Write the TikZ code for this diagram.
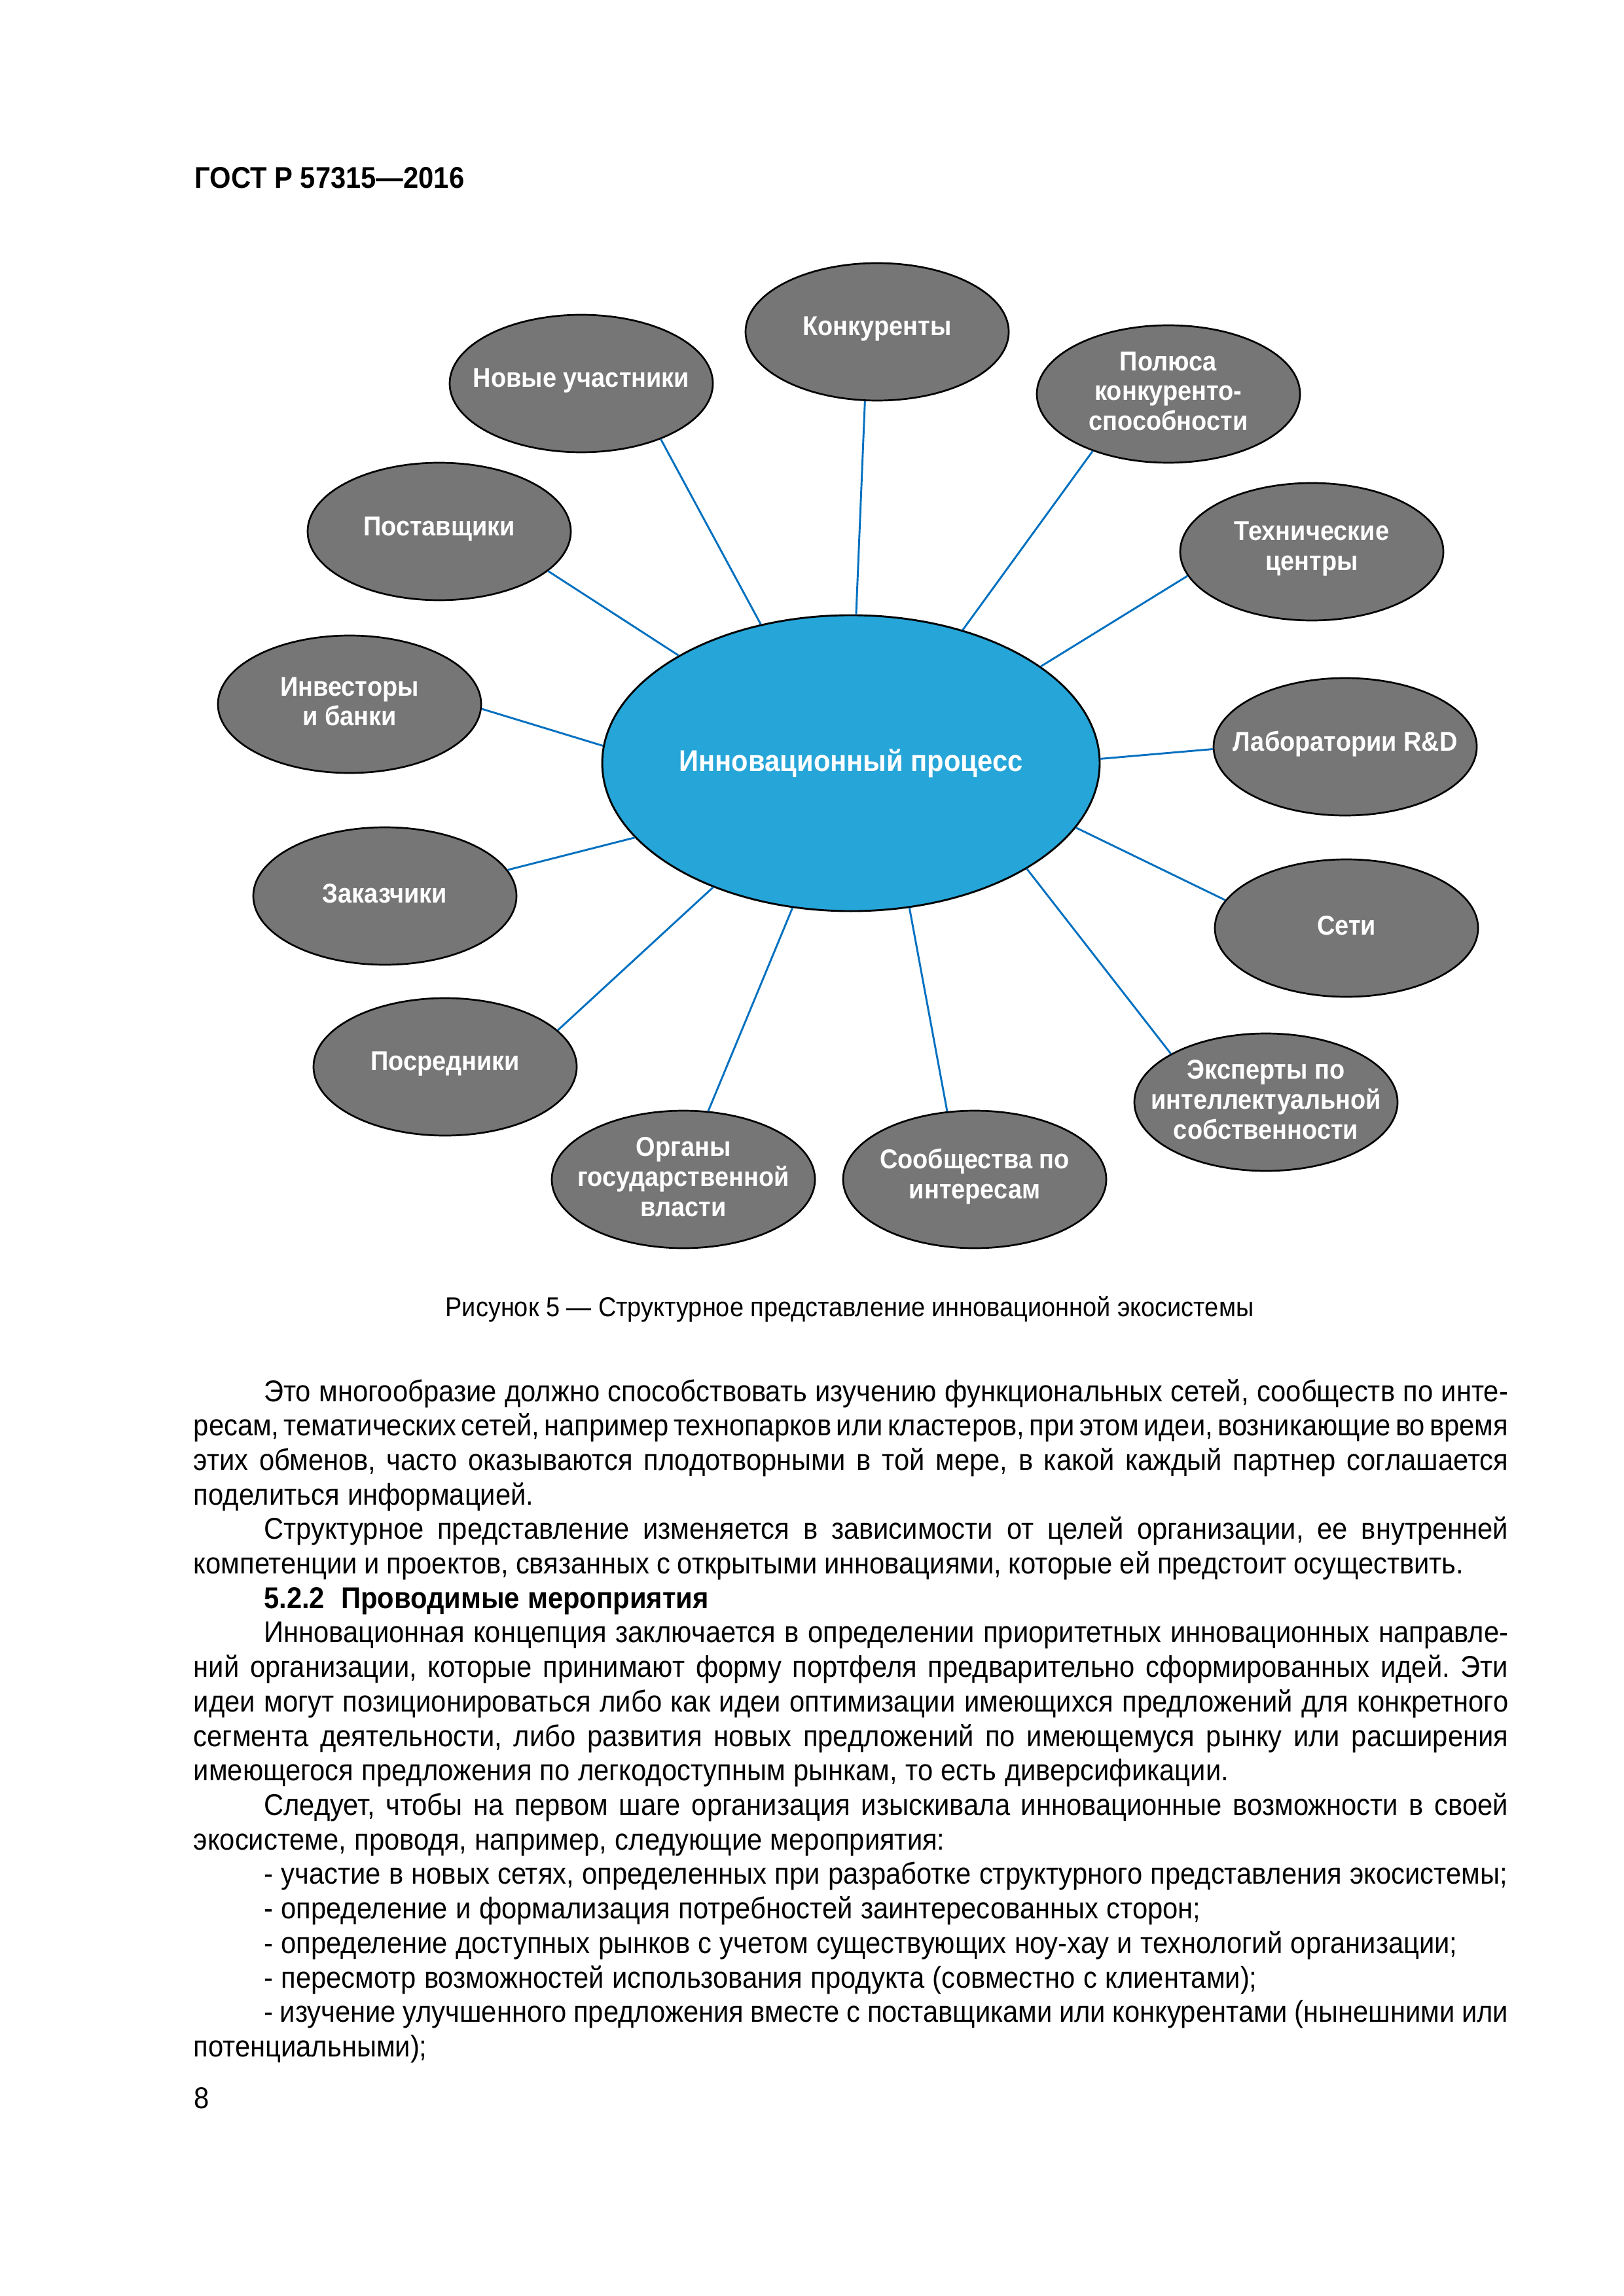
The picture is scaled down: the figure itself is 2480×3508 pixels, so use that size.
\documentclass[tikz,border=0pt]{standalone}
\usepackage{fontspec}
\setmainfont[FakeStretch=0.91]{Liberation Sans}
\usetikzlibrary{shapes.geometric}
\definecolor{cblue}{RGB}{38,165,216}
\definecolor{sgray}{RGB}{118,118,118}
\definecolor{lblue}{RGB}{0,112,192}
\newlength\tw \setlength\tw{482pt}
\newlength\pin \setlength\pin{25.8pt}
\newcommand\LF[1]{\hbox to\tw{#1}}
\newcommand\LI[1]{\hbox to\tw{\hskip\pin #1}}
\newcommand\LN[1]{\hbox{#1}}
\newcommand\LIN[1]{\hbox{\hskip\pin #1}}
\begin{document}
\begin{tikzpicture}[x=0.24pt,y=-0.24pt,
 sat/.style={ellipse,draw=black,line width=0.65pt,fill=sgray,minimum width=96.5pt,minimum height=50.4pt,inner sep=0pt},
 sattext/.style={inner sep=0pt,text=white,font=\fontsize{10}{11}\selectfont\bfseries,align=center,yshift=1pt},
 hub/.style={ellipse,draw=black,line width=0.7pt,fill=cblue,minimum width=182.4pt,minimum height=108.5pt,inner sep=0pt},
 hubtext/.style={inner sep=0pt,text=white,font=\fontsize{11}{13}\selectfont\bfseries},
 link/.style={draw=lblue,line width=0.7pt},
 txt/.style={inner sep=0pt,text=black}]
\useasboundingbox (0,0) rectangle (2480,3508);
\fill[white] (0,0) rectangle (2480,3508);

\node[txt,anchor=base west,font=\fontsize{11}{13}\selectfont\bfseries] (hdr) at (297,288) {ГОСТ Р 57315—2016};

\node[hub,label={[hubtext]center:Инновационный процесс}] (c) at (1300,1166) {};

\node[sat,label={[sattext]center:Новые участники}] (s1) at (888,586) {};
\node[sat,label={[sattext]center:Конкуренты}] (s2) at (1340,507) {};
\node[sat,label={[sattext]center:{Полюса\\конкуренто-\\способности}}] (s3) at (1785,602) {};
\node[sat,label={[sattext]center:{Технические\\центры}}] (s4) at (2004,843) {};
\node[sat,label={[sattext]center:Лаборатории R\&D}] (s5) at (2055,1141) {};
\node[sat,label={[sattext]center:Сети}] (s6) at (2057,1418) {};
\node[sat,label={[sattext]center:{Эксперты по\\интеллектуальной\\собственности}}] (s7) at (1934,1684) {};
\node[sat,label={[sattext]center:{Сообщества по\\интересам}}] (s8) at (1489,1802) {};
\node[sat,label={[sattext]center:{Органы\\государственной\\власти}}] (s9) at (1044,1802) {};
\node[sat,label={[sattext]center:Посредники}] (s10) at (680,1630) {};
\node[sat,label={[sattext]center:Заказчики}] (s11) at (588,1369) {};
\node[sat,label={[sattext]center:{Инвесторы\\и банки}}] (s12) at (534,1076) {};
\node[sat,label={[sattext]center:Поставщики}] (s13) at (671,812) {};

\draw[link] (c.123.7) -- (s1.-35.8);
\draw[link] (c.88.9) -- (s2.-100.4);
\draw[link] (c.50.2) -- (s3.-143.3);
\draw[link] (c.27.1) -- (s4.-169.1);
\draw[link] (c.1.7) -- (s5.181.3);
\draw[link] (c.-16.3) -- (s6.167.6);
\draw[link] (c.-31.9) -- (s7.153.4);
\draw[link] (c.-68.5) -- (s8.112.4);
\draw[link] (c.-112.3) -- (s9.70.8);
\draw[link] (c.-138.5) -- (s10.18.9);
\draw[link] (c.-161.1) -- (s11.12.1);
\draw[link] (c.176.3) -- (s12.-2.5);
\draw[link] (c.148) -- (s13.-20.2);

\node[txt,anchor=base,font=\fontsize{10}{12}\selectfont] (cap) at (1298,2011) {Рисунок 5 — Структурное представление инновационной экосистемы};

\node[txt,anchor=base west] (body) at (295,2141) {\parbox[t]{\tw}{\fontsize{11}{12.65}\selectfont\lineskiplimit=-10pt\frenchspacing
\spaceskip=0.27em plus 0.25em minus 0.06em
\LI{Это многообразие должно способствовать изучению функциональных сетей, сообществ по инте-}
\LF{\spaceskip=0.12em plus 0.1em minus 0.06em ресам, тематических сетей, например технопарков или кластеров, при этом идеи, возникающие во время}
\LF{этих обменов, часто оказываются плодотворными в той мере, в какой каждый партнер соглашается}
\LN{поделиться информацией.}
\LI{Структурное представление изменяется в зависимости от целей организации, ее внутренней}
\hbox spread -4pt{компетенции и проектов, связанных с открытыми инновациями, которые ей предстоит осуществить.}
\LIN{\bfseries 5.2.2\hskip 0.55em Проводимые мероприятия}
\LI{Инновационная концепция заключается в определении приоритетных инновационных направле-}
\LF{ний организации, которые принимают форму портфеля предварительно сформированных идей. Эти}
\LF{идеи могут позиционироваться либо как идеи оптимизации имеющихся предложений для конкретного}
\LF{сегмента деятельности, либо развития новых предложений по имеющемуся рынку или расширения}
\LN{имеющегося предложения по легкодоступным рынкам, то есть диверсификации.}
\LI{Следует, чтобы на первом шаге организация изыскивала инновационные возможности в своей}
\LN{экосистеме, проводя, например, следующие мероприятия:}
\LIN{- участие в новых сетях, определенных при разработке структурного представления экосистемы;}
\LIN{- определение и формализация потребностей заинтересованных сторон;}
\LIN{- определение доступных рынков с учетом существующих ноу-хау и технологий организации;}
\LIN{- пересмотр возможностей использования продукта (совместно с клиентами);}
\LI{- изучение улучшенного предложения вместе с поставщиками или конкурентами (нынешними или}
\LN{потенциальными);}}};

\node[txt,anchor=base west,font=\fontsize{11}{13}\selectfont] (pg) at (296,3221) {8};
\end{tikzpicture}
\end{document}
